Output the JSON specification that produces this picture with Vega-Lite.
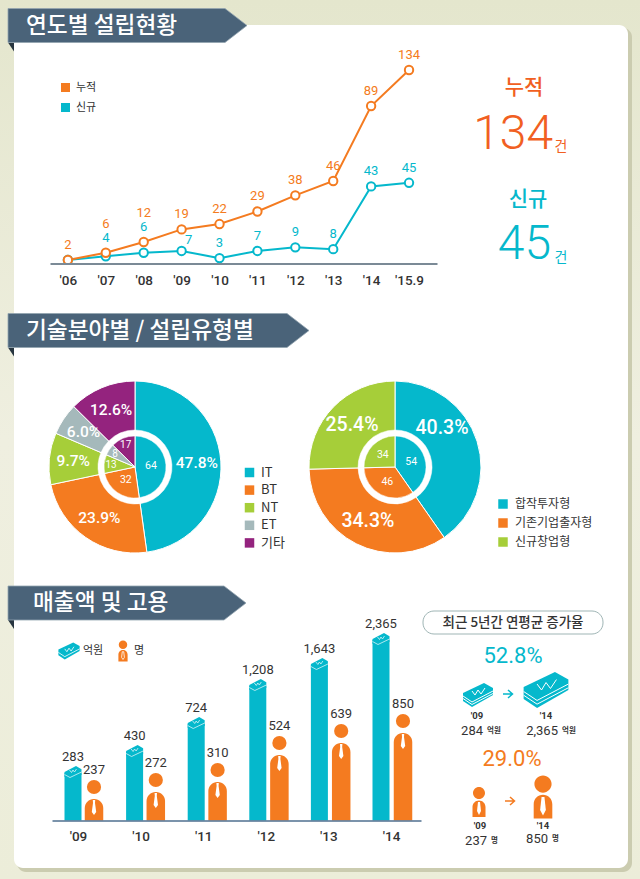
{"$schema":"https://vega.github.io/schema/vega-lite/v6.json","width":640,"height":879,"padding":0,"autosize":{"type":"none"},"background":"#e9ead6","config":{"legend":{"disable":true},"view":{"stroke":null},"font":"Noto Sans CJK KR"},"resolve":{"scale":{"x":"independent","y":"independent","color":"independent","theta":"independent","shape":"independent","size":"independent"},"axis":{"x":"independent","y":"independent"}},"layer":[
{"data":{"values":[{}]},"mark":{"type":"rect","fill":{"gradient":"linear","x1":0,"y1":0,"x2":0,"y2":1,"stops":[{"offset":0,"color":"#e4e6cd"},{"offset":0.5,"color":"#efefe0"},{"offset":1,"color":"#ecedd9"}]}},"encoding":{"x":{"datum":0,"type":"quantitative","axis":null,"scale":{"domain":[0,1],"range":[0,640]}},"x2":{"datum":1},"y":{"datum":0,"type":"quantitative","axis":null,"scale":{"domain":[0,1],"range":[0,879]}},"y2":{"datum":1}}},
{"data":{"values":[{}]},"mark":{"type":"rect","fill":"#cbccb0","cornerRadius":9},"encoding":{"x":{"datum":0,"type":"quantitative","axis":null,"scale":{"domain":[0,1],"range":[17,632]}},"x2":{"datum":1},"y":{"datum":0,"type":"quantitative","axis":null,"scale":{"domain":[0,1],"range":[28,872]}},"y2":{"datum":1}}},
{"data":{"values":[{}]},"mark":{"type":"rect","fill":"#ffffff","cornerRadius":9},"encoding":{"x":{"datum":0,"type":"quantitative","axis":null,"scale":{"domain":[0,1],"range":[14,628]}},"x2":{"datum":1},"y":{"datum":0,"type":"quantitative","axis":null,"scale":{"domain":[0,1],"range":[25,868]}},"y2":{"datum":1}}},
{"data":{"values":[{"section":1,"title":"연도별 설립현황"},{"section":2,"title":"기술분야별 / 설립유형별"},{"section":3,"title":"매출액 및 고용"}]},
 "encoding":{"y":{"field":"section","type":"quantitative","axis":null,"scale":{"domain":[1,2,3],"range":[25.5,330.5,603]}}},
 "resolve":{"scale":{"x":"independent","shape":"independent"}},
 "layer":[
 {"mark":{"type":"point","filled":true,"opacity":1,"size":4,"shape":"M0,17 L6,17 L6,26 Z","color":"#27353f"},"encoding":{"x":{"field":"section","type":"quantitative","axis":null,"scale":{"domain":[1,3],"range":[8,8]}}}},
 {"mark":{"type":"point","filled":true,"opacity":1,"size":4,"color":"#4a6379","stroke":"#93a4b0","strokeWidth":0.8},"encoding":{"x":{"field":"section","type":"quantitative","axis":null,"scale":{"domain":[1,3],"range":[8,8]}},"shape":{"field":"title","type":"nominal","legend":null,"scale":{"domain":["연도별 설립현황","기술분야별 / 설립유형별","매출액 및 고용"],"range":["M0,-17 L217,-17 L239,0 L217,17 L0,17 Z","M0,-17 L279,-17 L301,0 L279,17 L0,17 Z","M0,-17 L216,-17 L238,0 L216,17 L0,17 Z"]}}}},
 {"mark":{"type":"text","align":"left","baseline":"middle","fontSize":22.7,"fontWeight":500,"color":"#ffffff"},"encoding":{"x":{"field":"section","type":"quantitative","axis":null,"scale":{"domain":[1,2,3],"range":[26,26,33]}},"text":{"field":"title"}}}
 ]},
{"data":{"values":[
 {"series":"신규","period":"'06","value":2},{"series":"신규","period":"'07","value":4},{"series":"신규","period":"'08","value":6},{"series":"신규","period":"'09","value":7},{"series":"신규","period":"'10","value":3},{"series":"신규","period":"'11","value":7},{"series":"신규","period":"'12","value":9},{"series":"신규","period":"'13","value":8},{"series":"신규","period":"'14","value":43},{"series":"신규","period":"'15.9","value":45},
 {"series":"누적","period":"'06","value":2},{"series":"누적","period":"'07","value":6},{"series":"누적","period":"'08","value":12},{"series":"누적","period":"'09","value":19},{"series":"누적","period":"'10","value":22},{"series":"누적","period":"'11","value":29},{"series":"누적","period":"'12","value":38},{"series":"누적","period":"'13","value":46},{"series":"누적","period":"'14","value":89},{"series":"누적","period":"'15.9","value":134}]},
 "encoding":{"x":{"field":"period","type":"nominal","sort":null,"scale":{"type":"point","range":[50,437],"padding":0.605,"align":0.39},"axis":{"orient":"bottom","offset":-615.5,"zindex":1,"title":null,"grid":false,"ticks":false,"labelAngle":0,"labelFont":"Roboto","labelFontSize":13.5,"labelFontWeight":500,"labelColor":"#333333","labelPadding":10,"domainColor":"#7b8a96","domainWidth":2}},
 "y":{"field":"value","type":"quantitative","axis":null,"scale":{"domain":[0,46,89,134],"range":[263.5,181,106,70]}},
 "color":{"field":"series","type":"nominal","scale":{"domain":["누적","신규"],"range":["#f47b20","#05b8cc"]}}},
 "layer":[
 {"mark":{"type":"line","strokeWidth":2},"encoding":{"color":{"field":"series","type":"nominal","legend":{"disable":false,"orient":"none","legendX":60,"legendY":82,"title":null,"symbolType":"square","symbolSize":16,"symbolStrokeWidth":5,"labelFontSize":11,"labelColor":"#333333","rowPadding":-5,"labelOffset":5}}}},
 {"mark":{"type":"point","filled":false,"fill":"#ffffff","opacity":1,"size":70,"strokeWidth":2}},
 {"transform":[{"filter":"!((datum.series=='누적'&&(datum.period==\"'07\"||datum.period==\"'08\"))||(datum.series=='신규'&&(datum.period==\"'07\"||datum.period==\"'08\"||datum.period==\"'09\"))||(datum.series=='신규'&&datum.period==\"'06\"))"}],"mark":{"type":"text","dy":-15,"font":"Roboto","fontSize":13},"encoding":{"text":{"field":"value"}}},
 {"transform":[{"filter":"datum.series=='누적'&&(datum.period==\"'07\"||datum.period==\"'08\")"}],"mark":{"type":"text","dy":-29,"font":"Roboto","fontSize":13},"encoding":{"text":{"field":"value"}}},
 {"transform":[{"filter":"datum.series=='신규'&&datum.period==\"'07\""}],"mark":{"type":"text","dy":-18,"font":"Roboto","fontSize":13},"encoding":{"text":{"field":"value"}}},
 {"transform":[{"filter":"datum.series=='신규'&&datum.period==\"'08\""}],"mark":{"type":"text","dy":-26,"font":"Roboto","fontSize":13},"encoding":{"text":{"field":"value"}}},
 {"transform":[{"filter":"datum.series=='신규'&&datum.period==\"'09\""}],"mark":{"type":"text","dx":7,"dy":-11,"font":"Roboto","fontSize":13},"encoding":{"text":{"field":"value"}}}
 ]},
{"data":{"values":[{"metric":"누적","total":134},{"metric":"신규","total":45}]},
 "encoding":{"color":{"field":"metric","type":"nominal","scale":{"domain":["누적","신규"],"range":["#f15f22","#05b8cc"]}}},
 "resolve":{"scale":{"x":"independent","y":"independent"}},
 "layer":[
 {"mark":{"type":"text","fontSize":21,"fontWeight":500,"baseline":"middle"},"encoding":{"x":{"field":"metric","type":"nominal","axis":null,"scale":{"type":"point","padding":0,"domain":["누적","신규"],"range":[524,528]}},"y":{"field":"metric","type":"nominal","axis":null,"scale":{"type":"point","padding":0,"domain":["누적","신규"],"range":[88,200]}},"text":{"field":"metric"}}},
 {"mark":{"type":"text","font":"Roboto","fontWeight":300,"fontSize":48,"baseline":"middle","align":"right"},"encoding":{"x":{"field":"metric","type":"nominal","axis":null,"scale":{"type":"point","padding":0,"domain":["누적","신규"],"range":[553,551]}},"y":{"field":"metric","type":"nominal","axis":null,"scale":{"type":"point","padding":0,"domain":["누적","신규"],"range":[135,245]}},"text":{"field":"total"}}},
 {"mark":{"type":"text","text":"건","fontSize":14,"baseline":"middle"},"encoding":{"x":{"field":"metric","type":"nominal","axis":null,"scale":{"type":"point","padding":0,"domain":["누적","신규"],"range":[561,561]}},"y":{"field":"metric","type":"nominal","axis":null,"scale":{"type":"point","padding":0,"domain":["누적","신규"],"range":[147,258]}}}}
 ]},
{"data":{"values":[{"chart":"기술분야별","cat":"IT","share":47.8,"count":64,"label":"47.8%","rank":1},{"chart":"기술분야별","cat":"BT","share":23.9,"count":32,"label":"23.9%","rank":2},{"chart":"기술분야별","cat":"NT","share":9.7,"count":13,"label":"9.7%","rank":3},{"chart":"기술분야별","cat":"ET","share":6.0,"count":8,"label":"6.0%","rank":4},{"chart":"기술분야별","cat":"기타","share":12.6,"count":17,"label":"12.6%","rank":5}]},
 "encoding":{"x":{"field":"chart","type":"nominal","axis":null,"scale":{"type":"point","padding":0,"range":[135,135]}},"y":{"field":"chart","type":"nominal","axis":null,"scale":{"type":"point","padding":0,"range":[467,467]}},"order":{"field":"rank","type":"quantitative"}},
 "resolve":{"scale":{"theta":"independent"}},
 "layer":[
 {"mark":{"type":"arc","outerRadius":86,"innerRadius":0,"stroke":"#ffffff","strokeWidth":1},"encoding":{"theta":{"field":"share","type":"quantitative","stack":true},"color":{"field":"cat","type":"nominal","scale":{"domain":["IT","BT","NT","ET","기타"],"range":["#05b8cc","#f47b20","#a6ce39","#a5b9bb","#94237e"]},"legend":{"disable":false,"orient":"none","legendX":243,"legendY":466,"title":null,"symbolType":"square","symbolSize":90,"symbolStrokeWidth":0,"labelFontSize":13,"labelColor":"#333333","rowPadding":3.6,"labelOffset":5}}}},
 {"mark":{"type":"arc","outerRadius":37,"innerRadius":31,"fill":"#ffffff","stroke":"#ffffff","strokeWidth":0.5},"encoding":{"theta":{"field":"count","type":"quantitative","stack":true},"detail":{"field":"cat"}}},
 {"mark":{"type":"text","radius":62,"font":"Roboto","fontSize":15.5,"fontWeight":500,"color":"#ffffff","baseline":"middle"},"encoding":{"theta":{"field":"share","type":"quantitative","stack":true},"detail":{"field":"cat"},"text":{"field":"label"}}},
 {"mark":{"type":"text","radius":16,"font":"Roboto","fontSize":10.5,"color":"#ffffff","baseline":"middle"},"encoding":{"theta":{"field":"count","type":"quantitative","stack":true},"detail":{"field":"cat"},"text":{"condition":{"test":"datum.rank>2","value":""},"field":"count"}}},
 {"mark":{"type":"text","radius":24,"font":"Roboto","fontSize":10,"color":"#ffffff","baseline":"middle"},"encoding":{"theta":{"field":"count","type":"quantitative","stack":true},"detail":{"field":"cat"},"text":{"condition":{"test":"datum.rank<=2","value":""},"field":"count"}}}
 ]},
{"data":{"values":[{"chart":"설립유형별","cat":"합작투자형","share":40.3,"count":54,"label":"40.3%","rank":1},{"chart":"설립유형별","cat":"기존기업출자형","share":34.3,"count":46,"label":"34.3%","rank":2},{"chart":"설립유형별","cat":"신규창업형","share":25.4,"count":34,"label":"25.4%","rank":3}]},
 "encoding":{"x":{"field":"chart","type":"nominal","axis":null,"scale":{"type":"point","padding":0,"range":[395,395]}},"y":{"field":"chart","type":"nominal","axis":null,"scale":{"type":"point","padding":0,"range":[467,467]}},"order":{"field":"rank","type":"quantitative"}},
 "resolve":{"scale":{"theta":"independent"}},
 "layer":[
 {"mark":{"type":"arc","outerRadius":86,"innerRadius":0,"stroke":"#ffffff","strokeWidth":1},"encoding":{"theta":{"field":"share","type":"quantitative","stack":true},"color":{"field":"cat","type":"nominal","scale":{"domain":["합작투자형","기존기업출자형","신규창업형"],"range":["#05b8cc","#f47b20","#a6ce39"]},"legend":{"disable":false,"orient":"none","legendX":497,"legendY":498,"title":null,"symbolType":"square","symbolSize":90,"symbolStrokeWidth":0,"labelFontSize":12,"labelColor":"#333333","rowPadding":7,"labelOffset":6}}}},
 {"mark":{"type":"arc","outerRadius":37,"innerRadius":31,"fill":"#ffffff","stroke":"#ffffff","strokeWidth":0.5},"encoding":{"theta":{"field":"count","type":"quantitative","stack":true},"detail":{"field":"cat"}}},
 {"mark":{"type":"text","radius":60,"font":"Roboto","fontSize":19.5,"fontWeight":500,"color":"#ffffff","baseline":"middle"},"encoding":{"theta":{"field":"share","type":"quantitative","stack":true},"detail":{"field":"cat"},"text":{"condition":{"test":"datum.rank==1","value":""},"field":"label"}}},
 {"transform":[{"filter":"datum.rank==1"}],"mark":{"type":"text","radius":61,"theta":0.88,"font":"Roboto","fontSize":19.5,"fontWeight":500,"color":"#ffffff","baseline":"middle"},"encoding":{"text":{"field":"label"}}},
 {"mark":{"type":"text","radius":17,"font":"Roboto","fontSize":10.5,"color":"#ffffff","baseline":"middle"},"encoding":{"theta":{"field":"count","type":"quantitative","stack":true},"detail":{"field":"cat"},"text":{"field":"count"}}}
 ]},
{"data":{"values":[{"period":"'09","sales":283,"staff":237},{"period":"'10","sales":430,"staff":272},{"period":"'11","sales":724,"staff":310},{"period":"'12","sales":1208,"staff":524},{"period":"'13","sales":1643,"staff":639},{"period":"'14","sales":2365,"staff":850}]},
 "resolve":{"scale":{"x":"independent","y":"independent"},"axis":{"x":"independent"}},
 "layer":[
 {"mark":{"type":"point","opacity":0},"encoding":{"x":{"field":"period","type":"nominal","scale":{"type":"point","range":[52,421],"padding":0.447,"align":0.464},"axis":{"orient":"bottom","offset":-58.5,"zindex":1,"title":null,"grid":false,"ticks":false,"labelAngle":0,"labelFont":"Roboto","labelFontSize":13.5,"labelFontWeight":500,"labelColor":"#333333","labelPadding":9,"domainColor":"#4f6f8f","domainWidth":1.5}}}},
 {"encoding":{"x":{"field":"period","type":"nominal","axis":null,"scale":{"type":"point","range":[73,381],"padding":0}},"y":{"field":"sales","type":"quantitative","stack":null,"axis":null,"scale":{"domain":[0,283,430,724,1208,1643,2365],"range":[820.5,773,752,724,686,665,640]}}},
  "layer":[
  {"mark":{"type":"bar","width":17,"color":"#05b8cc"}},
  {"mark":{"type":"point","filled":true,"opacity":1,"size":4,"color":"#05b8cc","shape":"M-8.5,-1 L3,-7 L8.5,-3.7 L8.5,2 L-8.5,4 Z"}},
  {"mark":{"type":"point","filled":false,"opacity":1,"size":4,"color":"#d8f4f7","strokeWidth":0.8,"shape":"M-3.5,-3 L-1.5,-0.5 L0,-3 L1.5,-1 L3.5,-4 M-8.5,1.5 L-3,4.5 L8.5,-1"}},
  {"mark":{"type":"text","dy":-16,"font":"Roboto","fontSize":13,"color":"#333333"},"encoding":{"text":{"field":"sales","format":","}}}
  ]},
 {"encoding":{"x":{"field":"period","type":"nominal","axis":null,"scale":{"type":"point","range":[94,403],"padding":0}},"y":{"field":"staff","type":"quantitative","stack":null,"axis":null,"scale":{"domain":[0,237,272,310,524,639,850],"range":[820.5,799,792,782,755,743,733]}}},
  "layer":[
  {"mark":{"type":"bar","width":18.5,"color":"#f47b20","cornerRadiusTopLeft":9,"cornerRadiusTopRight":9}},
  {"mark":{"type":"circle","size":201,"yOffset":-12,"color":"#f47b20","opacity":1}},
  {"mark":{"type":"point","filled":true,"opacity":1,"size":4,"color":"#ffffff","shape":"M-1.2,1 L1.2,1 L1,4 L2.2,13 L0,16 L-2.2,13 L-1,4 Z"}},
  {"mark":{"type":"text","dy":-29,"font":"Roboto","fontSize":13,"color":"#333333"},"encoding":{"text":{"field":"staff"}}}
  ]}
 ]},
{"data":{"values":[{"unit":"억원"},{"unit":"명"}]},
 "encoding":{"y":{"field":"unit","type":"nominal","axis":null,"scale":{"type":"point","padding":0,"domain":["억원","명"],"range":[651,651]}}},
 "resolve":{"scale":{"x":"independent","shape":"independent"}},
 "layer":[
 {"mark":{"type":"point","filled":true,"opacity":1,"size":2},"encoding":{"x":{"field":"unit","type":"nominal","axis":null,"scale":{"type":"point","padding":0,"domain":["억원","명"],"range":[69,123]}},"color":{"field":"unit","type":"nominal","scale":{"domain":["억원","명"],"range":["#05b8cc","#f47b20"]}},"shape":{"field":"unit","type":"nominal","scale":{"domain":["억원","명"],"range":["M-15,-2 L6,-12 L15,-7 L15,0 L-6,12 L-15,6 Z","M-6,-9 A6,6 0 1 1 6,-9 A6,6 0 1 1 -6,-9 Z M-6.5,15 L-6.5,5 A6.5,6.5 0 0 1 6.5,5 L6.5,15 Z"]}}}},
 {"mark":{"type":"point","filled":false,"opacity":1,"size":2,"color":"#ffffff","strokeWidth":0.8},"encoding":{"x":{"field":"unit","type":"nominal","axis":null,"scale":{"type":"point","padding":0,"domain":["억원","명"],"range":[69,123]}},"shape":{"field":"unit","type":"nominal","scale":{"domain":["억원","명"],"range":["M-6,-3 L-3,1 L0,-4 L3,0 L7,-6 M-15,2 L-6,8 L15,-3","M-1,1 L1,1 L2,9 L0,12 L-2,9 Z"]}}}},
 {"mark":{"type":"text","align":"left","baseline":"middle","fontSize":11,"color":"#333333"},"encoding":{"x":{"field":"unit","type":"nominal","axis":null,"scale":{"type":"point","padding":0,"domain":["억원","명"],"range":[83,134]}},"text":{"field":"unit"}}}
 ]},
{"data":{"values":[{"title":"최근 5년간 연평균 증가율"}]},
 "resolve":{"scale":{"x":"independent","y":"independent"}},
 "layer":[
 {"mark":{"type":"rect","fill":"#ffffff","stroke":"#9fb5b5","strokeWidth":1,"cornerRadius":11},"encoding":{"x":{"datum":0,"type":"quantitative","axis":null,"scale":{"domain":[0,1],"range":[423,603]}},"x2":{"datum":1},"y":{"datum":0,"type":"quantitative","axis":null,"scale":{"domain":[0,1],"range":[611,634]}},"y2":{"datum":1}}},
 {"mark":{"type":"text","fontSize":13.5,"fontWeight":500,"baseline":"middle","color":"#333333"},"encoding":{"x":{"field":"title","type":"nominal","axis":null,"scale":{"type":"point","padding":0,"range":[513,513]}},"y":{"field":"title","type":"nominal","axis":null,"scale":{"type":"point","padding":0,"range":[623,623]}},"text":{"field":"title"}}}
 ]},
{"data":{"values":[{"metric":"매출액","rate":"52.8%"},{"metric":"고용","rate":"29.0%"}]},
 "mark":{"type":"text","font":"Roboto","fontSize":22,"baseline":"middle"},
 "encoding":{"x":{"field":"metric","type":"nominal","axis":null,"scale":{"type":"point","padding":0,"domain":["매출액","고용"],"range":[513,512]}},"y":{"field":"metric","type":"nominal","axis":null,"scale":{"type":"point","padding":0,"domain":["매출액","고용"],"range":[656,759]}},"color":{"field":"metric","type":"nominal","scale":{"domain":["매출액","고용"],"range":["#05b8cc","#f47b20"]}},"text":{"field":"rate"}}},
{"data":{"values":[{"period":"'09","amount":284,"label":"284"},{"period":"'14","amount":2365,"label":"2,365"}]},
 "resolve":{"scale":{"x":"independent","y":"independent"}},
 "layer":[
 {"encoding":{"x":{"field":"period","type":"nominal","axis":null,"scale":{"type":"point","padding":0,"range":[478,546]}},"y":{"field":"period","type":"nominal","axis":null,"scale":{"type":"point","padding":0,"range":[695,690]}},"size":{"field":"amount","type":"quantitative","scale":{"domain":[284,2365],"range":[4,8.9]}}},
  "layer":[
  {"mark":{"type":"point","filled":true,"opacity":1,"color":"#05b8cc","shape":"M-15,-2 L6,-12 L15,-7 L15,0 L-6,12 L-15,6 Z"}},
  {"mark":{"type":"point","filled":false,"opacity":1,"color":"#ffffff","strokeWidth":1,"shape":"M-6,-4 L-3,0 L0,-5 L3,-1 L7,-7 M-15,1 L-6,7 L15,-4 M-15,3.5 L-6,9.5 L15,-1.5"}}
  ]},
 {"mark":{"type":"text","fontSize":9.5,"font":"Roboto","fontWeight":"bold","baseline":"middle","color":"#333333"},"encoding":{"x":{"field":"period","type":"nominal","axis":null,"scale":{"type":"point","padding":0,"range":[477,546]}},"y":{"field":"period","type":"nominal","axis":null,"scale":{"type":"point","padding":0,"range":[716,716]}},"text":{"field":"period"}}},
 {"mark":{"type":"text","fontSize":13,"font":"Roboto","align":"right","baseline":"middle","color":"#333333"},"encoding":{"x":{"field":"period","type":"nominal","axis":null,"scale":{"type":"point","padding":0,"range":[483,558]}},"y":{"field":"period","type":"nominal","axis":null,"scale":{"type":"point","padding":0,"range":[731,731]}},"text":{"field":"label"}}},
 {"mark":{"type":"text","text":"억원","fontSize":7.5,"fontWeight":"bold","align":"left","baseline":"middle","color":"#333333"},"encoding":{"x":{"field":"period","type":"nominal","axis":null,"scale":{"type":"point","padding":0,"range":[487,562]}},"y":{"field":"period","type":"nominal","axis":null,"scale":{"type":"point","padding":0,"range":[731,731]}}}}
 ]},
{"data":{"values":[{"step":"매출액"},{"step":"고용"}]},
 "mark":{"type":"point","filled":false,"opacity":1,"size":4,"strokeWidth":1.5,"shape":"M-5,0 L4,0 M0,-4 L4.5,0 L0,4"},
 "encoding":{"x":{"field":"step","type":"nominal","axis":null,"scale":{"type":"point","padding":0,"domain":["매출액","고용"],"range":[508,510]}},"y":{"field":"step","type":"nominal","axis":null,"scale":{"type":"point","padding":0,"domain":["매출액","고용"],"range":[694,801]}},"color":{"field":"step","type":"nominal","scale":{"domain":["매출액","고용"],"range":["#05b8cc","#f47b20"]}}}},
{"data":{"values":[{"period":"'09","staff":237},{"period":"'14","staff":850}]},
 "resolve":{"scale":{"x":"independent","y":"independent"}},
 "layer":[
 {"encoding":{"x":{"field":"period","type":"nominal","axis":null,"scale":{"type":"point","padding":0,"range":[479,543]}},"y":{"field":"period","type":"nominal","axis":null,"scale":{"type":"point","padding":0,"range":[802,797]}},"size":{"field":"staff","type":"quantitative","scale":{"domain":[237,850],"range":[4,8.2]}}},
  "layer":[
  {"mark":{"type":"point","filled":true,"opacity":1,"color":"#f47b20","shape":"M-6,-9 A6,6 0 1 1 6,-9 A6,6 0 1 1 -6,-9 Z M-6.5,15 L-6.5,5 A6.5,6.5 0 0 1 6.5,5 L6.5,15 Z"}},
  {"mark":{"type":"point","filled":true,"opacity":1,"color":"#ffffff","shape":"M-1,0 L1,0 L2,9 L0,13 L-2,9 Z"}}
  ]},
 {"mark":{"type":"text","fontSize":9.5,"font":"Roboto","fontWeight":"bold","baseline":"middle","color":"#333333"},"encoding":{"x":{"field":"period","type":"nominal","axis":null,"scale":{"type":"point","padding":0,"range":[480,543]}},"y":{"field":"period","type":"nominal","axis":null,"scale":{"type":"point","padding":0,"range":[826,826]}},"text":{"field":"period"}}},
 {"mark":{"type":"text","fontSize":13,"font":"Roboto","align":"right","baseline":"middle","color":"#333333"},"encoding":{"x":{"field":"period","type":"nominal","axis":null,"scale":{"type":"point","padding":0,"range":[487,548]}},"y":{"field":"period","type":"nominal","axis":null,"scale":{"type":"point","padding":0,"range":[841,839]}},"text":{"field":"staff"}}},
 {"mark":{"type":"text","text":"명","fontSize":7.5,"fontWeight":"bold","align":"left","baseline":"middle","color":"#333333"},"encoding":{"x":{"field":"period","type":"nominal","axis":null,"scale":{"type":"point","padding":0,"range":[491,552]}},"y":{"field":"period","type":"nominal","axis":null,"scale":{"type":"point","padding":0,"range":[841,839]}}}}
 ]}
]}
